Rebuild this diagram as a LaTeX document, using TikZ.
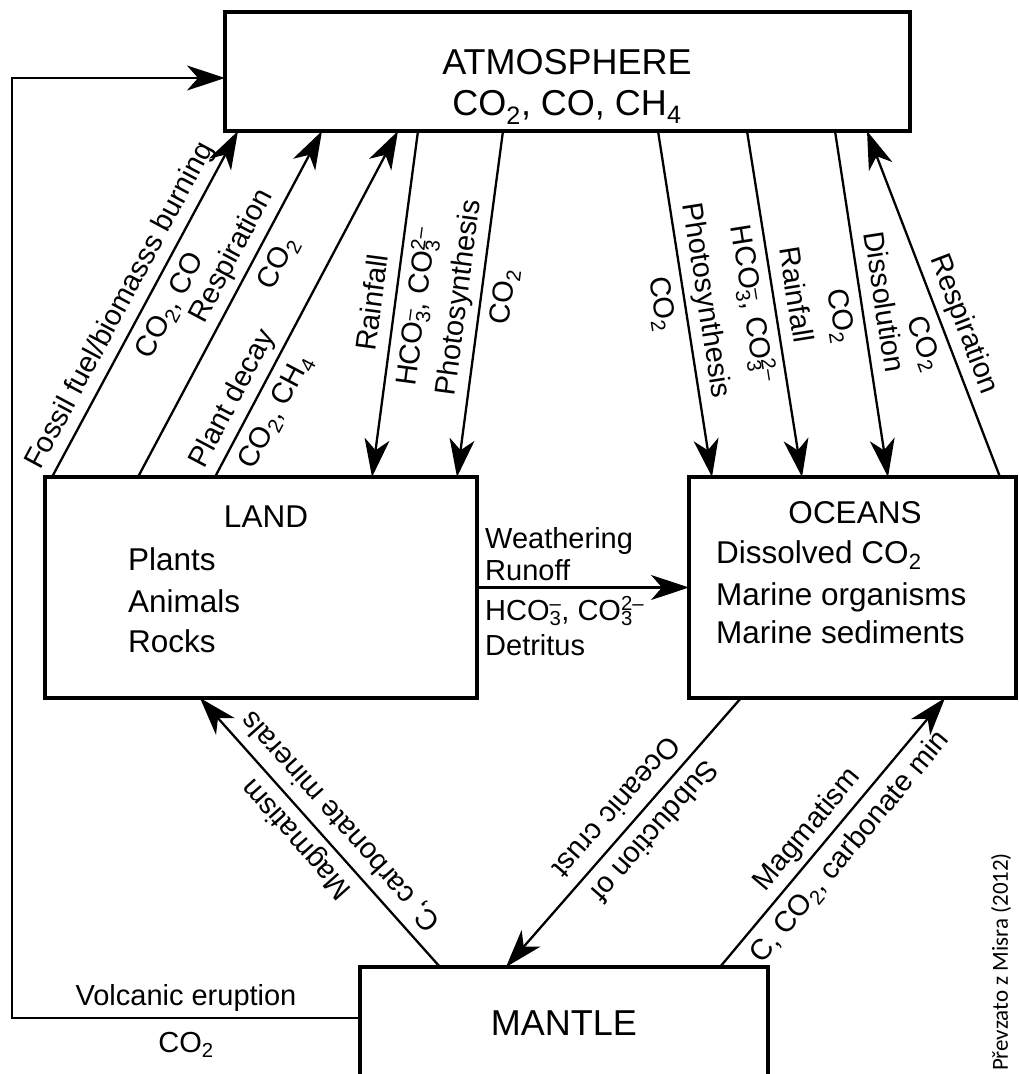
\documentclass[tikz,border=0pt]{standalone}
\usepackage{fontspec}
\setmainfont{Liberation Sans}
\newfontfamily\creditfont{Carlito}
\usetikzlibrary{arrows.meta,calc}
\newcommand\ssc[2]{\setbox0=\hbox{\textsuperscript{#2}}\setbox2=\hbox{\textsubscript{#1}}\ifdim\wd0>\wd2 \rlap{\copy2}\copy0\else\rlap{\copy0}\copy2\fi}
\begin{document}
\begin{tikzpicture}[x=1pt,y=-1pt,
  box/.style={draw, line width=3.4pt, inner sep=0pt, outer sep=0pt},
  lbl/.style={font=\fontsize{29}{33}\selectfont, inner sep=0pt, text height=21pt, text depth=6pt, sloped, allow upside down},
  ab/.style={lbl, above=6pt},
  bl/.style={lbl, below=9pt},
  arr/.style={line width=2.3pt, -{Stealth[length=38pt,width=25pt,inset=11pt]}},
  rarr/.style={line width=2.3pt, {Stealth[length=38pt,width=25pt,inset=11pt]}-},
  big/.style={font=\fontsize{36}{40}\selectfont, inner sep=0pt},
  btxt/.style={font=\fontsize{31.5}{36}\selectfont, inner sep=0pt},
]
\useasboundingbox (0,0) rectangle (1019,1074);

% boxes
\node[box, minimum width=685pt, minimum height=119pt] (atm) at (567.5,71.5) {};
\node[box, minimum width=432pt, minimum height=221pt] (land) at (261,587.5) {};
\node[box, minimum width=327pt, minimum height=221pt] (ocean) at (852.5,587.5) {};
\node[box, minimum width=408pt, minimum height=200pt] (mantle) at (564,1067) {};

% box texts
\node[big, anchor=base] (atmt) at (567,74) {ATMOSPHERE};
\node[big, anchor=base] (atmc) at (567,115) {CO\textsubscript{2}, CO, CH\textsubscript{4}};
\node[btxt, anchor=base] (landt) at (266,527) {LAND};
\node[btxt, anchor=base west] (land1) at (128,570) {Plants};
\node[btxt, anchor=base west] (land2) at (128,612) {Animals};
\node[btxt, anchor=base west] (land3) at (128,652) {Rocks};
\node[btxt, anchor=base] (oceant) at (855,523) {OCEANS};
\node[btxt, anchor=base west] (ocean1) at (716,563) {Dissolved CO\textsubscript{2}};
\node[btxt, anchor=base west] (ocean2) at (716,605) {Marine organisms};
\node[btxt, anchor=base west] (ocean3) at (716,643) {Marine sediments};
\node[big, anchor=base] (mantlet) at (564,1035) {MANTLE};

% attachment points
\coordinate (L1) at ($(land.north west)+(7,0)$);
\coordinate (L2) at ($(land.north west)+(93,0)$);
\coordinate (L3) at ($(land.north west)+(170,0)$);
\coordinate (L4) at ($(land.north west)+(327,0)$);
\coordinate (L5) at ($(land.north west)+(412,0)$);
\coordinate (A1) at ($(atm.south west)+(13,0)$);
\coordinate (A2) at ($(atm.south west)+(97,0)$);
\coordinate (A3) at ($(atm.south west)+(173,0)$);
\coordinate (A4) at ($(atm.south west)+(193,0)$);
\coordinate (A5) at ($(atm.south west)+(278,0)$);
\coordinate (A6) at ($(atm.south west)+(433,0)$);
\coordinate (A7) at ($(atm.south west)+(522,0)$);
\coordinate (A8) at ($(atm.south west)+(610,0)$);
\coordinate (A9) at ($(atm.south west)+(642,0)$);
\coordinate (O1) at ($(ocean.north west)+(23,0)$);
\coordinate (O2) at ($(ocean.north west)+(113,0)$);
\coordinate (O3) at ($(ocean.north west)+(199,0)$);
\coordinate (O4) at ($(ocean.north west)+(311,0)$);
\coordinate (L6) at ($(land.south west)+(155,0)$);
\coordinate (O5) at ($(ocean.south west)+(52,0)$);
\coordinate (O6) at ($(ocean.south west)+(256,0)$);
\coordinate (M1) at ($(mantle.north west)+(80,0)$);
\coordinate (M2) at ($(mantle.north west)+(146,0)$);
\coordinate (M3) at ($(mantle.north west)+(360,0)$);
\coordinate (V0) at ($(mantle.north west)+(0,51)$);
\coordinate (C1) at (12,1018);
\coordinate (C2) at (12,78);
\coordinate (A0) at ($(atm.north west)+(0,66)$);

% land <-> atmosphere
\draw[arr] (L1) -- node[ab, pos=0.466] {Fossil fuel/biomasss burning}
                   node[bl, pos=0.527] {CO\textsubscript{2}, CO} (A1);
\draw[arr] (L2) -- node[ab, pos=0.61] {Respiration}
                   node[bl, pos=0.65] {CO\textsubscript{2}} (A2);
\draw[arr] (L3) -- node[ab, pos=0.197] {Plant decay}
                   node[bl, pos=0.22] {CO\textsubscript{2}, CH\textsubscript{4}} (A3);
\draw[rarr] (L4) -- node[ab, pos=0.495] {Rainfall}
                    node[bl, pos=0.50] {HCO\ssc{3}{–}, CO\ssc{3}{2–}} (A4);
\draw[rarr] (L5) -- node[ab, pos=0.51] {Photosynthesis}
                    node[bl, pos=0.53] {CO\textsubscript{2}} (A5);

% atmosphere <-> oceans
\draw[arr] (A6) -- node[ab, pos=0.50] {Photosynthesis}
                   node[bl, pos=0.49] {CO\textsubscript{2}} (O1);
\draw[arr] (A7) -- node[ab, pos=0.484] {Rainfall}
                   node[bl, pos=0.49] {HCO\ssc{3}{–}, CO\ssc{3}{2–}} (O2);
\draw[arr] (A8) -- node[ab, pos=0.504] {Dissolution}
                   node[bl, pos=0.525] {CO\textsubscript{2}} (O3);
\draw[rarr] (A9) -- node[ab, pos=0.58] {Respiration}
                    node[bl, pos=0.59] {CO\textsubscript{2}} (O4);

% land -> oceans
\draw[arr] (land.east) -- (ocean.west);
\node[lbl, sloped=false, anchor=base west] (w1) at (485,548) {Weathering};
\node[lbl, sloped=false, anchor=base west] (w2) at (485,580) {Runoff};
\node[lbl, sloped=false, anchor=base west] (w3) at (485,620) {HCO\ssc{3}{–}, CO\ssc{3}{2–}};
\node[lbl, sloped=false, anchor=base west] (w4) at (485,655) {Detritus};

% mantle links
\draw[arr] (M1) -- node[ab, pos=0.53] {Magmatism}
                   node[bl, pos=0.485] {C, carbonate minerals} (L6);
\draw[arr] (O5) -- node[ab, pos=0.44] {Subduction of}
                   node[bl, pos=0.46] {Oceanic crust} (M2);
\draw[arr] (M3) -- node[ab, pos=0.46] {Magmatism}
                   node[bl, pos=0.50] {C, CO\textsubscript{2}, carbonate min} (O6);

% volcanic eruption
\draw[arr] (V0) -- node[lbl, sloped=false, above=5pt, midway] {Volcanic eruption}
                   node[lbl, sloped=false, below=12pt, midway] {CO\textsubscript{2}} (C1) -- (C2) -- (A0);

% credit
\node[font=\creditfont\fontsize{23}{27}\selectfont, rotate=90, inner sep=0pt] (credit) at (1001,962) {Převzato z Misra (2012)};
\end{tikzpicture}
\end{document}
